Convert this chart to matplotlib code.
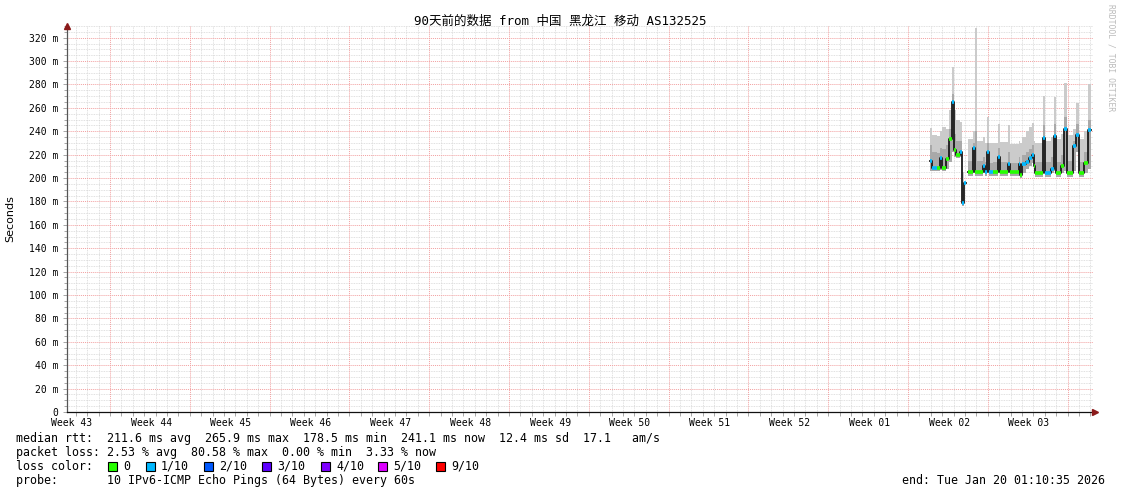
import numpy as np
import matplotlib
matplotlib.use("Agg")
import matplotlib.pyplot as plt
from matplotlib.patches import Rectangle

W, H = 1121, 494

# time axis: days since the left edge of the 90 day window
week_labels = ["Week 43", "Week 44", "Week 45", "Week 46", "Week 47", "Week 48",
               "Week 49", "Week 50", "Week 51", "Week 52", "Week 01", "Week 02",
               "Week 03"]
first_week_start = 3.78

# smokeping samples (segments), values in ms
seg_start = [75.71, 75.88, 76.32, 76.59, 76.76, 77.11, 77.38, 77.64, 77.82, 77.99,
             78.34, 78.52, 78.69, 78.87, 79.04, 79.48, 79.66, 79.83, 80.36, 80.54,
             80.71, 80.89, 81.24, 81.68, 81.86, 82.56, 82.73, 83.52, 83.61, 83.79,
             84.14, 84.40, 84.67, 84.84, 84.93, 85.63, 85.81, 86.33, 86.60, 86.77,
             87.21, 87.48, 87.74, 88.27, 88.53, 88.80, 89.23, 89.58]
seg_end = 89.85
median_ms = [215, 209, 209, 217, 209, 216, 233, 265, 224, 220,
             222, 179, 196, np.nan, 205, 226, 205, 205, 210, 205,
             222, 205, 205, 218, 205, 212, 205, 212, 203, 212,
             214, 217, 220, 210, 204, 234, 204, 208, 236, 204,
             210, 242, 204, 227, 237, 204, 213, 241]
loss = [1, 1, 0, 1, 0, 0, 0, 1, 0, 0,
        1, 1, 1, 0, 0, 1, 0, 0, 1, 1,
        1, 1, 0, 1, 0, 1, 0, 1, 0, 1,
        1, 1, 1, 0, 0, 1, 1, 1, 1, 0,
        0, 1, 0, 1, 1, 0, 0, 1]
smoke_top = [243, 237, 236, 240, 244, 242, 258, 295, 258, 250,
             248, 205, 205, np.nan, 233, 240, 328, 232, 235, 230,
             252, 230, 230, 246, 231, 245, 229, 232, 230, 235,
             240, 244, 247, 232, 230, 270, 232, 235, 269, 233,
             238, 281, 237, 242, 264, 233, 240, 280]
smoke_mid = [228, 222, 221, 226, 225, 228, 242, 272, 238, 232,
             232, 192, 200, np.nan, 215, 230, 240, 215, 218, 214,
             230, 213, 214, 226, 214, 222, 213, 218, 212, 220,
             222, 225, 228, 218, 214, 245, 214, 218, 246, 214,
             220, 252, 215, 232, 246, 214, 222, 250]
smoke_bot = [206, 206, 206, 207, 206, 208, 214, 222, 218, 217,
             218, 176, 192, np.nan, 202, 204, 202, 202, 204, 202,
             204, 202, 202, 204, 202, 204, 202, 202, 200, 204,
             208, 210, 213, 204, 201, 204, 201, 204, 206, 201,
             204, 206, 201, 206, 222, 201, 204, 208]

loss_levels = [0, 1, 2, 3, 4, 5, 9]
loss_names = ["0", "1/10", "2/10", "3/10", "4/10", "5/10", "9/10"]
loss_colors = ["#26ff00", "#00b8ff", "#0059ff", "#5e00ff", "#7e00ff", "#dd00ff", "#ff0000"]
color_of = dict(zip(loss_levels, loss_colors))

fig = plt.figure(figsize=(W / 100, H / 100), dpi=100)
ax = fig.add_axes([67 / W, 1 - 412 / H, (1093 - 67) / W, (412 - 26) / H])
ax.set_xlim(0, 90)
ax.set_ylim(0, 330)

# grid
days = np.arange(first_week_start - 3, 90, 1.0)
weeks = first_week_start + 7 * np.arange(len(week_labels))
for d in days:
    if np.min(np.abs(weeks - d)) < 1e-6:
        continue
    ax.axvline(d, color="#d6d6d6", lw=0.6, ls=(0, (1, 1)), zorder=0)
for y in range(5, 331, 5):
    if y % 20:
        ax.axhline(y, color="#d6d6d6", lw=0.6, ls=(0, (1, 1)), zorder=0)
for d in weeks:
    ax.axvline(d, color="#f2a0a0", lw=0.7, ls=(0, (1, 1)), zorder=0.5)
for y in range(20, 331, 20):
    ax.axhline(y, color="#f2a0a0", lw=0.7, ls=(0, (1, 1)), zorder=0.5)

# smoke
edges = np.array(seg_start + [seg_end])
def ext(v):
    v = np.array(v, dtype=float)
    return np.append(v, v[-1])

ax.fill_between(edges, ext(smoke_bot), ext(smoke_top), step="post",
                color="#cbcbcb", lw=0, zorder=2)
ax.fill_between(edges, ext(smoke_bot), ext(smoke_mid), step="post",
                color="#a9a9a9", lw=0, zorder=2.1)
ax.step(edges, ext(median_ms), where="post", color="#1a1a1a", lw=1.3, zorder=3)
for i, m in enumerate(median_ms):
    if np.isnan(m):
        continue
    x1 = seg_start[i + 1] if i + 1 < len(seg_start) else seg_end
    ax.hlines(m, seg_start[i], x1, colors=color_of[loss[i]], lw=2.6, zorder=4)

# axes look
for s in ["top", "right"]:
    ax.spines[s].set_visible(False)
ax.spines["left"].set_color("#555555")
ax.spines["bottom"].set_color("#111111")
ax.spines["left"].set_linewidth(0.9)
ax.spines["bottom"].set_linewidth(0.9)
ax.plot([0], [1.0], transform=ax.transAxes, marker="^", color="#8b1a1a",
        ms=4, clip_on=False, zorder=6)
ax.plot([1.002], [0], transform=ax.transAxes, marker=">", color="#8b1a1a",
        ms=4, clip_on=False, zorder=6)

ax.set_xticks(weeks - 3.4)
ax.set_xticklabels(week_labels)
ax.set_xticks(days, minor=True)
ax.tick_params(axis="x", which="major", length=0, pad=4, labelsize=7,
               labelfontfamily="DejaVu Sans Mono")
ax.tick_params(axis="x", which="minor", length=3, color="#999999", width=0.6)
yt = list(range(0, 321, 20))
ax.set_yticks(yt)
ax.set_yticklabels(["0"] + ["%d m" % v for v in yt[1:]])
ax.set_yticks(range(0, 331, 5), minor=True)
ax.tick_params(axis="y", which="major", length=3, color="#999999", width=0.6,
               pad=3, labelsize=7, labelfontfamily="DejaVu Sans Mono")
ax.tick_params(axis="y", which="minor", length=2, color="#999999", width=0.6)

fig.text(560 / W, 1 - 21 / H, "90天前的数据 from 中国 黑龙江 移动 AS132525",
         ha="center", va="center", fontsize=9,
         family=["DejaVu Sans Mono", "Noto Sans CJK SC"])
fig.text(10 / W, 1 - 219 / H, "Seconds", rotation=90, ha="center", va="center",
         fontsize=8, family="DejaVu Sans")
fig.text(1111 / W, 1 - 4 / H, "RRDTOOL / TOBI OETIKER", rotation=270,
         ha="center", va="top", fontsize=5.8, color="#bbbbbb",
         family="DejaVu Sans Mono")

mono = dict(fontsize=8.4, family="DejaVu Sans Mono", va="center")
fig.text(16 / W, 1 - 438 / H,
         "median rtt:  211.6 ms avg  265.9 ms max  178.5 ms min  241.1 ms now  12.4 ms sd  17.1   am/s",
         **mono)
fig.text(16 / W, 1 - 452 / H,
         "packet loss: 2.53 % avg  80.58 % max  0.00 % min  3.33 % now", **mono)
fig.text(16 / W, 1 - 466 / H, "loss color:", **mono)
fig.text(16 / W, 1 - 480 / H,
         "probe:       10 IPv6-ICMP Echo Pings (64 Bytes) every 60s", **mono)
fig.text(1105 / W, 1 - 480 / H, "end: Tue Jan 20 01:10:35 2026", ha="right", **mono)

box_x = [108, 146, 204, 262, 321, 378, 436]
for bx, name, col in zip(box_x, loss_names, loss_colors):
    fig.patches.append(Rectangle((bx / W, 1 - 471 / H), 9 / W, 9 / H,
                                 transform=fig.transFigure, facecolor=col,
                                 edgecolor="black", lw=0.8))
    fig.text((bx + 15) / W, 1 - 466 / H, name, **mono)

fig.savefig("out.png", dpi=100)
